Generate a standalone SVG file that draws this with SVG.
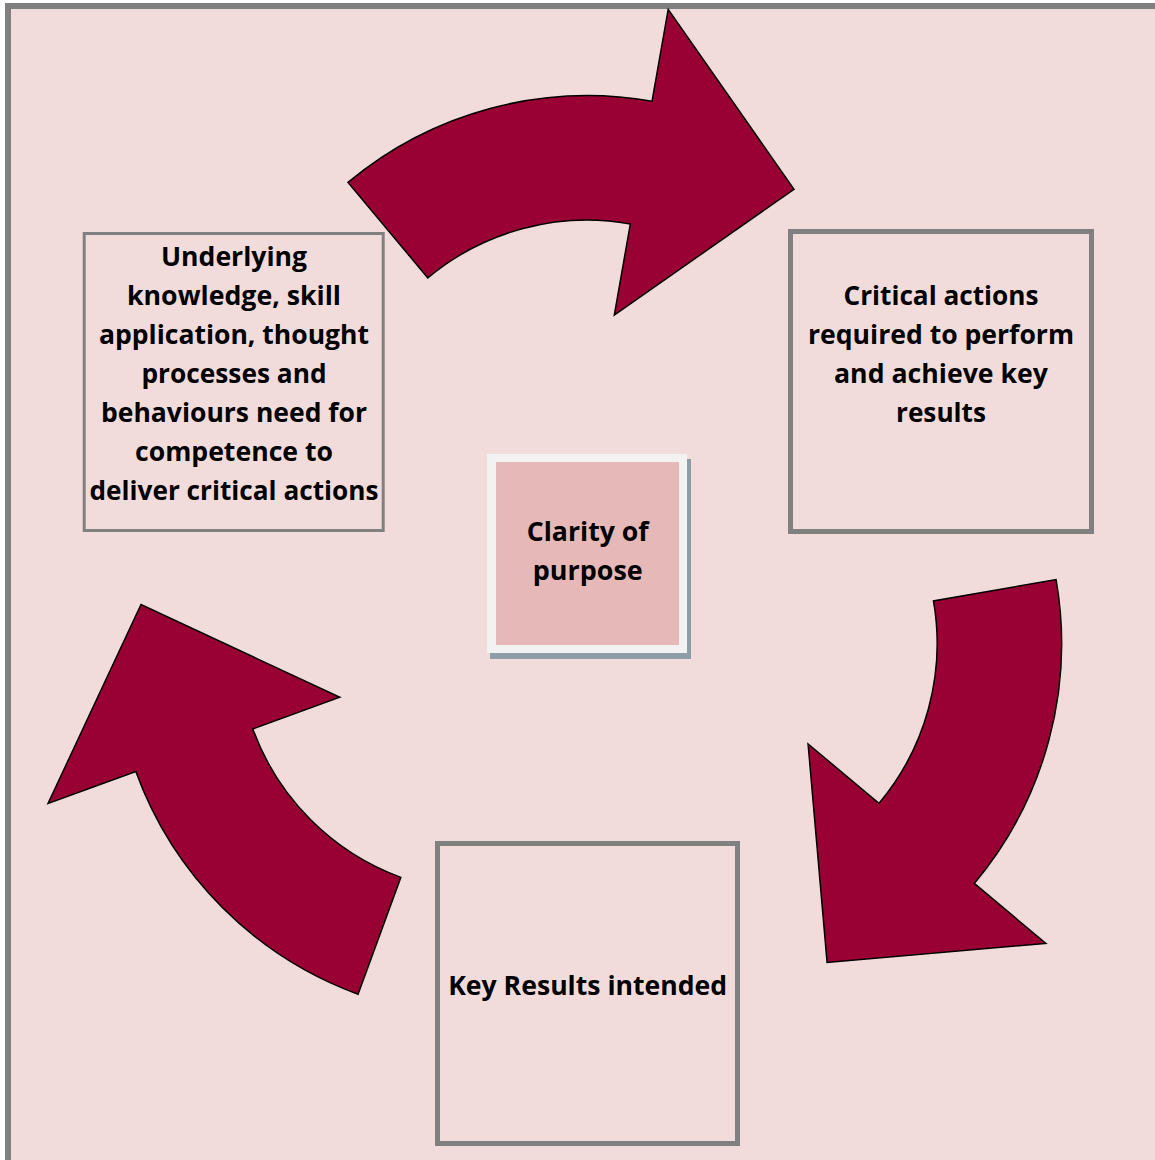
<svg xmlns="http://www.w3.org/2000/svg" width="1155" height="1160" viewBox="0 0 1155 1160">
<style>
.box{fill:#F2DCDB;stroke:#808080}
.t{font-family:"Open Sans","Liberation Sans",sans-serif;font-weight:700;font-size:27px;fill:#000;text-anchor:middle}
.arrow{fill:#990033;stroke:#000;stroke-width:1.5;stroke-linejoin:miter}
</style>
<defs>
<path id="arc-arrow" class="arrow" d="M 348,182.4 A 373 373 0 0 1 652,101.3 L 668.2,9.3 L 794,189.3 L 614.3,315 L 630.35,223.9 A 248.5 248.5 0 0 0 427.8,277.9 Z"/>
</defs>
<rect width="1155" height="1160" fill="#FFFFFF"/>
<rect x="8" y="6" width="1200" height="1200" fill="#F2DCDB" stroke="#808080" stroke-width="6"/>

<g id="connectors">
<use href="#arc-arrow"/>
<use href="#arc-arrow" transform="rotate(120 587.37 585.4)"/>
<use href="#arc-arrow" transform="rotate(240 587.37 585.4)"/>
</g>

<g id="node-competence">
<rect class="box" x="84.2" y="233.5" width="299" height="297" stroke-width="3"/>
<text class="t" x="234" y="265.5" textLength="146" lengthAdjust="spacingAndGlyphs">Underlying</text>
<text class="t" x="234" y="304.5" textLength="214" lengthAdjust="spacingAndGlyphs">knowledge, skill</text>
<text class="t" x="234" y="343.5" textLength="270" lengthAdjust="spacingAndGlyphs">application, thought</text>
<text class="t" x="234" y="382.5" textLength="185" lengthAdjust="spacingAndGlyphs">processes and</text>
<text class="t" x="234" y="421.5" textLength="266" lengthAdjust="spacingAndGlyphs">behaviours need for</text>
<text class="t" x="234" y="460.5" textLength="198" lengthAdjust="spacingAndGlyphs">competence to</text>
<text class="t" x="234" y="499.5" textLength="289" lengthAdjust="spacingAndGlyphs">deliver critical actions</text>
</g>

<g id="node-critical-actions">
<rect class="box" x="790.5" y="231.5" width="301" height="300" stroke-width="5"/>
<text class="t" x="941" y="304.5" textLength="195" lengthAdjust="spacingAndGlyphs">Critical actions</text>
<text class="t" x="941" y="343.5" textLength="266" lengthAdjust="spacingAndGlyphs">required to perform</text>
<text class="t" x="941" y="382.5" textLength="214" lengthAdjust="spacingAndGlyphs">and achieve key</text>
<text class="t" x="941" y="421.5" textLength="90" lengthAdjust="spacingAndGlyphs">results</text>
</g>

<g id="node-key-results">
<rect class="box" x="437.5" y="843.5" width="300" height="300" stroke-width="5"/>
<text class="t" x="587.7" y="994.5" textLength="279" lengthAdjust="spacingAndGlyphs">Key Results intended</text>
</g>

<g id="node-clarity">
<rect x="490" y="459" width="201" height="200" fill="#8E9EA6"/>
<rect x="487" y="454" width="200" height="199" fill="#F2F2F2"/>
<rect x="496" y="462" width="183" height="183" fill="#E6B8B7"/>
<text class="t" x="587.7" y="540.7" textLength="122" lengthAdjust="spacingAndGlyphs">Clarity of</text>
<text class="t" x="587.7" y="580" textLength="110" lengthAdjust="spacingAndGlyphs">purpose</text>
</g>
</svg>
